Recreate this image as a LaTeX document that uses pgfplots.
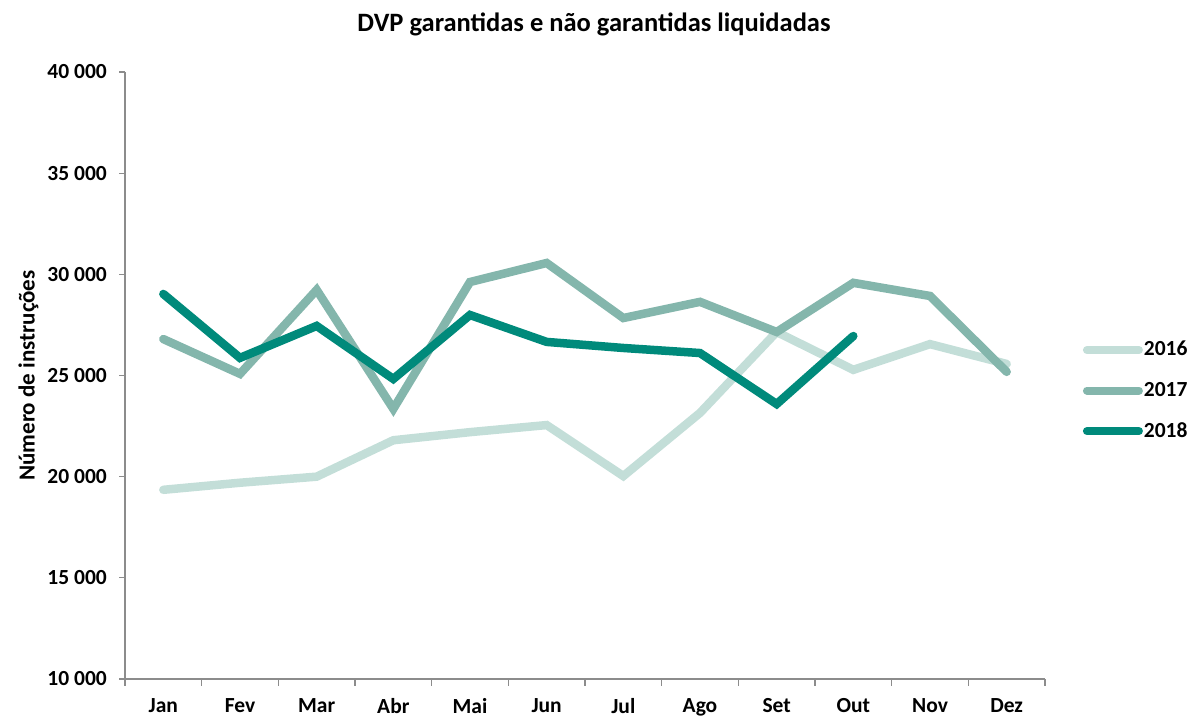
\documentclass[border=0pt]{standalone}
\usepackage{pgfplots}
\pgfplotsset{compat=1.18}
\usepackage{fontspec}
\setmainfont{Carlito}
\definecolor{c16}{HTML}{C3DED8}
\definecolor{c17}{HTML}{84B6AC}
\definecolor{c18}{HTML}{008A7B}
\definecolor{axgray}{HTML}{8C8C8C}
\begin{document}
\fontsize{21}{25}\selectfont\bfseries
\begin{tikzpicture}[x=1pt,y=1pt]
\useasboundingbox (0,0) rectangle (1189,717);
\begin{axis}[
  at={(125pt,38pt)}, anchor=south west,
  scale only axis, width=920pt, height=607pt,
  xmin=-0.5, xmax=11.5, ymin=10000, ymax=40000,
  axis x line=bottom, axis y line=left,
  axis line style={-, axgray, line width=1.2pt},
  xtick={0,...,11},
  xticklabels={Jan,Fev,Mar,Abr,Mai,Jun,Jul,Ago,Set,Out,Nov,Dez},
  minor xtick={-0.5,0.5,...,11.5},
  ytick={10000,15000,...,40000},
  scaled y ticks=false,
  tick align=outside,
  x tick style={draw=none},
  minor x tick style={draw=axgray, line width=1.2pt},
  minor tick length=7pt,
  y tick style={axgray, line width=1.2pt},
  major tick length=6pt,
  xticklabel style={font=\fontsize{21.5}{25}\selectfont\bfseries, yshift=-12pt, inner sep=1pt},
  yticklabel style={font=\fontsize{21.5}{25}\selectfont\bfseries, xshift=-5pt},
  /pgf/number format/fixed,
  /pgf/number format/1000 sep={\ },
  /pgf/number format/assume math mode=true,
  ylabel={Número de instruções},
  ylabel style={font=\fontsize{23}{27}\selectfont\bfseries, at={(axis description cs:-0.105,0.5)}, anchor=center, rotate=0},
  legend style={draw=none, fill=none, at={(axis description cs:1.041,0.475)}, anchor=west,
    font=\fontsize{21.5}{25}\selectfont\bfseries, row sep=21pt, inner sep=0pt,
    nodes={inner sep=1pt}},
  legend cell align=left,
  legend image code/.code={\draw[#1, line width=8pt, line cap=round] (0pt,0pt) -- (52pt,0pt);},
]
\addplot[c16, line width=8.5pt, mark=none, line join=miter, line cap=round] coordinates {
(0,19350) (1,19700) (2,20000) (3,21800) (4,22200) (5,22550) (6,20030) (7,23150) (8,27150) (9,25280) (10,26550) (11,25570)};
\addplot[c17, line width=8.5pt, mark=none, line join=miter, line cap=round] coordinates {
(0,26800) (1,25080) (2,29230) (3,23350) (4,29620) (5,30560) (6,27840) (7,28640) (8,27150) (9,29580) (10,28930) (11,25180)};
\addplot[c18, line width=8.5pt, mark=none, line join=miter, line cap=round] coordinates {
(0,29030) (1,25870) (2,27450) (3,24830) (4,27990) (5,26660) (6,26360) (7,26110) (8,23590) (9,26950)};
\legend{2016,2017,2018}
\end{axis}
\node[font=\fontsize{26.5}{30}\selectfont\bfseries] at (594,693) {DVP garantidas e não garantidas liquidadas};
\end{tikzpicture}
\end{document}
